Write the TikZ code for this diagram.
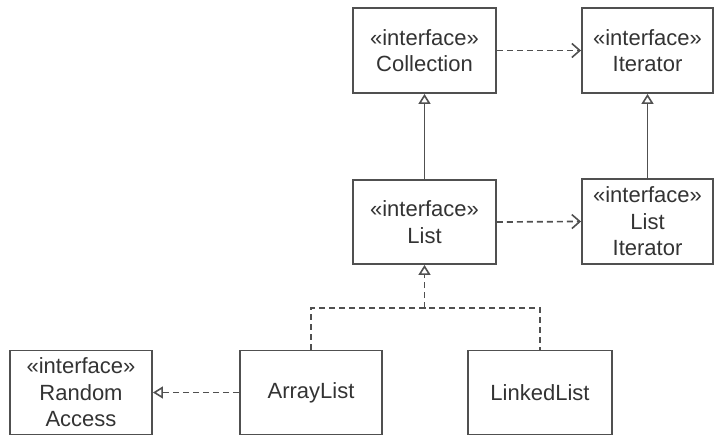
\documentclass[tikz,border=0pt]{standalone}
\usepackage{fontspec}
\setmainfont{Liberation Sans}
\usetikzlibrary{arrows.meta}
\definecolor{ln}{HTML}{505050}
\definecolor{tx}{HTML}{333333}
\begin{document}
\begin{tikzpicture}[x=1pt,y=-1pt,
  cls/.style={draw=ln, line width=1.9pt, align=center, inner sep=0pt, text=tx,
    font=\fontsize{22}{26.5}\selectfont},
  gen/.style={draw=ln, line width=1.7pt, -{Triangle[open, length=10pt, width=12pt, line width=1.6pt]}},
  dep/.style={draw=ln, line width=1.7pt, dash pattern=on 6pt off 4pt, -{Straight Barb[length=8pt, width=14pt, line width=1.6pt]}},
  real/.style={draw=ln, line width=1.7pt, dash pattern=on 6pt off 4pt, -{Triangle[open, length=10pt, width=12pt, line width=1.6pt]}},
  realline/.style={draw=ln, line width=1.7pt, dash pattern=on 6pt off 4pt}]
\useasboundingbox (0,0) rectangle (717,436);
\node[cls, minimum width=143pt, minimum height=85pt] (coll) at (424.5,50.5) {«interface»\\Collection};
\node[cls, minimum width=131pt, minimum height=85pt] (iter) at (647.5,50.5) {«interface»\\Iterator};
\node[cls, minimum width=143pt, minimum height=84pt] (list) at (424.5,222) {«interface»\\List};
\node[cls, minimum width=131pt, minimum height=85pt] (liter) at (647.5,221.5) {«interface»\\List\\Iterator};
\node[cls, minimum width=142pt, minimum height=84pt] (ra) at (81,392.5) {«interface»\\Random\\Access};
\node[cls, minimum width=142pt, minimum height=84pt] (al) at (311,392.5) {ArrayList};
\node[cls, minimum width=144pt, minimum height=84pt] (ll) at (540,392.5) {LinkedList};
\coordinate (j) at (424.5,308);
\draw[dep] (coll.east) -- (iter.west);
\draw[dep] (list.east) -- (liter.west);
\draw[gen] (list.north) -- (coll.south);
\draw[gen] (liter.north) -- (iter.south);
\draw[realline] (al.north) |- (j) -| (ll.north);
\draw[real] (j) -- (list.south);
\draw[real] (al.west) -- (ra.east);
\end{tikzpicture}
\end{document}
